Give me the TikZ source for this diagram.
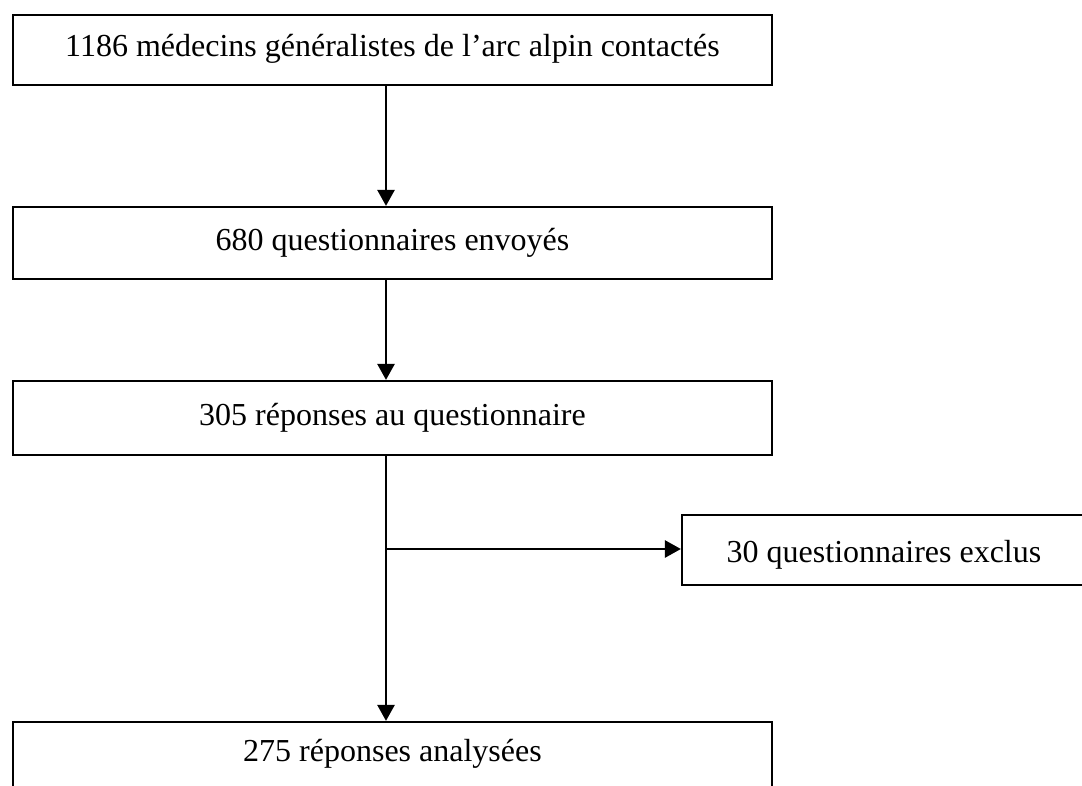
\documentclass[tikz,border=0pt]{standalone}
\usepackage{fontspec}
\setmainfont{Liberation Serif}
\usetikzlibrary{arrows.meta}
\begin{document}
\begin{tikzpicture}[x=1pt,y=-1pt,
  box/.style={draw=black, line width=2.2pt, rectangle, inner sep=0pt},
  lbl/.style={anchor=base, inner sep=0pt, font=\fontsize{32}{38}\selectfont},
  conn/.style={line width=2.6pt, -{Triangle[length=16pt,width=17pt]}}]
\clip (0,0) rectangle (1082,785);
\fill[white] (0,0) rectangle (1082,785);
% boxes
\node[box, minimum width=759pt, minimum height=70pt] (b1) at (392.5,50) {};
\node[box, minimum width=759pt, minimum height=72pt] (b2) at (392.5,243) {};
\node[box, minimum width=759pt, minimum height=74pt] (b3) at (392.5,418) {};
\node[box, minimum width=404pt, minimum height=70pt] (b4) at (884,550) {};
\node[box, minimum width=759pt, minimum height=74pt] (b5) at (392.5,759) {};
% labels
\node[lbl] (t1) at (392.5,56) {1186 médecins généralistes de l’arc alpin contactés};
\node[lbl] (t2) at (392.5,250) {680 questionnaires envoyés};
\node[lbl] (t3) at (392.5,425) {305 réponses au questionnaire};
\node[lbl] (t4) at (884,562.7) {30 questionnaires exclus};
\node[lbl] (t5) at (392.5,761.7) {275 réponses analysées};
% connectors
\coordinate (x1) at (386,85);
\coordinate (x2) at (386,279);
\coordinate (x3) at (386,455);
\coordinate (br) at (386,549);
\draw[conn] (x1) -- (x1 |- b2.north);
\draw[conn] (x2) -- (x2 |- b3.north);
\draw[conn] (x3) -- (x3 |- b5.north);
\draw[conn] (br) -- (br -| b4.west);
\end{tikzpicture}
\end{document}
